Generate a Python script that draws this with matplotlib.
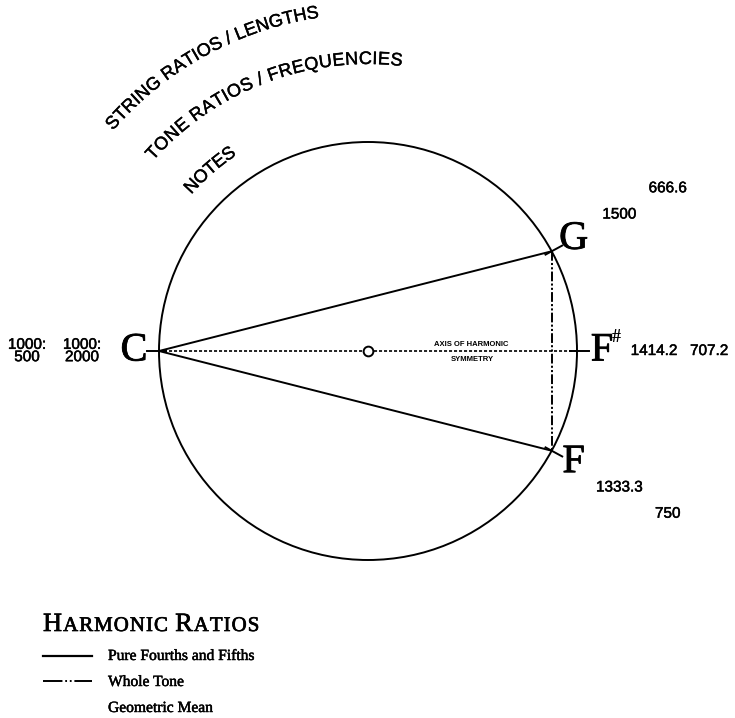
import numpy as np
import matplotlib
matplotlib.use("Agg")
import matplotlib.pyplot as plt
import matplotlib.patheffects as pe
from matplotlib.patches import Circle
from matplotlib.font_manager import FontProperties

plt.rcParams['lines.scale_dashes'] = False

# notes on the tone circle (angle in degrees, 0 = right, counter-clockwise)
notes = ["C", "G", "F", "F"]
note_sharp = [False, False, True, False]
note_angles = [180.0, 28.5, 0.0, -28.5]
tone_ratios = ["1000:\n2000", "1500", "1414.2", "1333.3"]
string_ratios = ["1000:\n500", "666.6", "707.2", "750"]
ring_titles = ["STRING RATIOS / LENGTHS", "TONE RATIOS / FREQUENCIES", "NOTES"]
legend_items = ["Pure Fourths and Fifths", "Whole Tone", "Geometric Mean"]

# %% layout (pixel units, y down)
cx, cy, R = 368, 351, 209
r_note, r_tone, r_string = 234, 286, 341


def stroke(w):
    return [pe.withStroke(linewidth=w, foreground='black')]


fig = plt.figure(figsize=(7.35, 7.18), dpi=100)
ax = fig.add_axes([0, 0, 1, 1])
ax.set_xlim(0, 735)
ax.set_ylim(718, 0)
ax.axis('off')
renderer = fig.canvas.get_renderer()


def polar(r, a):
    t = np.radians(a)
    return cx + r * np.cos(t), cy - r * np.sin(t)


def char_widths(s, fp):
    ref = renderer.get_text_width_height_descent("HH", fp, ismath=False)[0]
    return [renderer.get_text_width_height_descent("H" + c + "H", fp, ismath=False)[0] - ref
            for c in s]


def arc_text(s, r, a0, a1, size):
    fp = FontProperties(family='Liberation Sans', size=size)
    w = char_widths(s, fp)
    arc = r * np.radians(a0 - a1)
    extra = (arc - sum(w)) / (len(s) - 1)
    pos = 0
    for ch, cw in zip(s, w):
        th = a0 - np.degrees((pos + cw / 2) / r)
        x, y = polar(r, th)
        ax.text(x, y, ch, rotation=th - 90, rotation_mode='anchor',
                ha='center', va='baseline', fontproperties=fp, path_effects=stroke(0.3))
        pos += cw + extra


# %% circle and chords
ax.add_patch(Circle((cx, cy), R, fill=False, lw=1.4, color='black', zorder=2))
pts = [polar(R, a) for a in note_angles]
C, G, Fs, F = pts
ax.plot([C[0], G[0]], [C[1], G[1]], color='black', lw=1.4)
ax.plot([C[0], F[0]], [C[1], F[1]], color='black', lw=1.4)
ax.plot([G[0], F[0]], [G[1], F[1]], color='black', lw=1.4,
        dashes=(7, 1.6, 1.5, 1.6, 1.5, 1.6))
ax.plot([C[0], Fs[0]], [C[1], Fs[1]], color='black', lw=1.2, dashes=(2.2, 1.4))
ax.plot(cx, cy, 'o', ms=7, mfc='white', mec='black', mew=1.4, zorder=4)

# radial ticks at each note
for a in note_angles:
    x0, y0 = polar(R - 7, a)
    x1, y1 = polar(R + 12, a)
    ax.plot([x0, x1], [y0, y1], color='black', lw=1.4)

ax.text(471, 346, "AXIS OF HARMONIC", ha='center', va='baseline',
        fontsize=5.5, fontweight='bold', family='Liberation Sans')
ax.text(472, 361, "SYMMETRY", ha='center', va='baseline',
        fontsize=5.5, fontweight='bold', family='Liberation Sans')

# %% labels
for n, sh, a, tr, sr in zip(notes, note_sharp, note_angles, tone_ratios, string_ratios):
    x, y = polar(r_note, a)
    ax.text(x, y, n, ha='center', va='center', fontsize=29, family='Liberation Serif',
            path_effects=stroke(0.6))
    if sh:
        ax.annotate("#", (x, y), xytext=(10, 14), textcoords='offset pixels',
                    ha='left', va='center', fontsize=13, fontweight='bold',
                    family='Liberation Serif')
    for txt, r in [(tr, r_tone), (sr, r_string)]:
        x, y = polar(r, a)
        ax.text(x, y, txt, ha='center', va='center', fontsize=11,
                family='Liberation Sans', linespacing=0.85, path_effects=stroke(0.35))

# curved ring titles
arc_text(ring_titles[0], 337, 139.2, 98.3, 13)
arc_text(ring_titles[1], 287, 138.5, 83.2, 13)
arc_text(ring_titles[2], 236, 138.5, 123.8, 13)

# %% legend
x = 43
for piece, size in [("H", 19), ("ARMONIC", 15), (" ", 15), ("R", 19), ("ATIOS", 15)]:
    fp = FontProperties(family='Liberation Serif', size=size)
    for ch, cw in zip(piece, char_widths(piece, fp)):
        ax.text(x, 631, ch, ha='left', va='baseline', fontproperties=fp,
                path_effects=stroke(0.5))
        x += cw + 1.0

ax.plot([43, 92], [656, 656], color='black', lw=1.6)
ax.plot([43, 92], [681, 681], color='black', lw=1.4, dashes=(14, 2, 1.3, 2, 1.3, 2))
for item, yb in zip(legend_items, [660, 686, 712]):
    ax.text(108, yb, item, ha='left', va='baseline', fontsize=11.2,
            family='Liberation Serif', path_effects=stroke(0.35))

fig.savefig('out.png', dpi=100)
